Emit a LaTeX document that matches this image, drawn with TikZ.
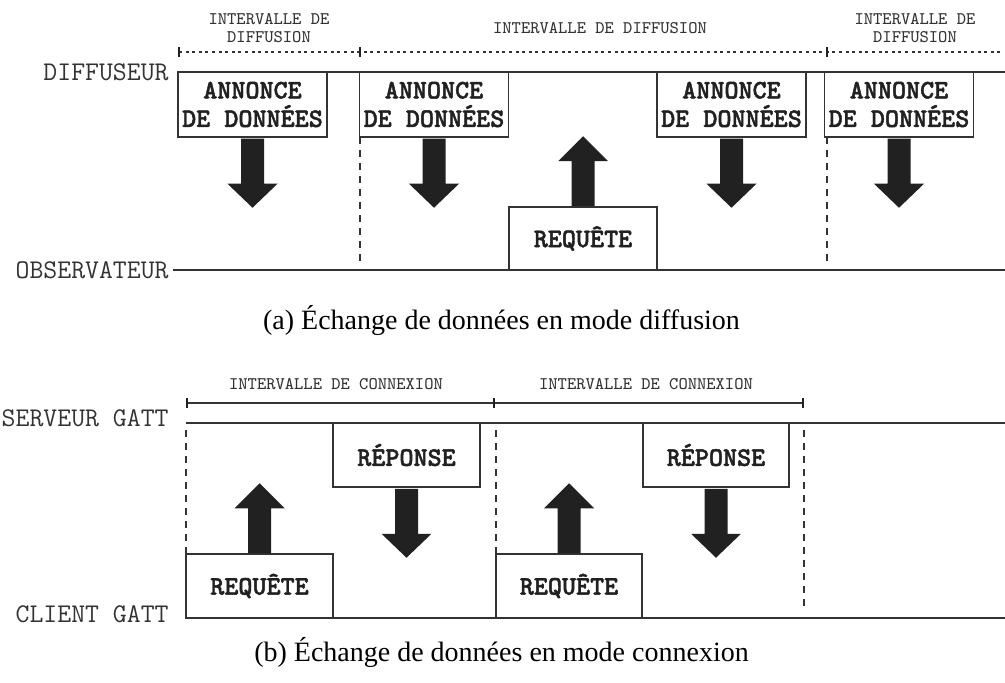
\documentclass[tikz,border=0pt]{standalone}
\usepackage{fontspec}
\setmainfont{Liberation Serif}
\newfontfamily\grasmono[Extension=.otf, UprightFont=lmmonolt10-bold, FakeBold=1.6]{lmmonolt10-bold}
\usepackage{tikz}
\usetikzlibrary{positioning}
\usepackage{xcolor}
\definecolor{trait}{gray}{0.2}
\definecolor{plein}{gray}{0.13}
\tikzset{boite/.style={draw=trait, line width=0.75pt, fill=white, inner sep=0pt, align=center,
           text=plein, font=\fontsize{13.4pt}{14.25pt}\selectfont\grasmono},
         acteur/.style={anchor=east, inner sep=0pt, text=trait,
           font=\fontsize{13.5pt}{14pt}\selectfont\ttfamily},
         intervalle/.style={inner sep=0pt, align=center, text=trait,
           font=\fontsize{8.85pt}{9.25pt}\selectfont\ttfamily},
         legende/.style={anchor=base, inner sep=0pt, font=\fontsize{14pt}{16pt}\selectfont},
         ligne/.style={draw=trait, line width=1pt},
         separation/.style={draw=trait, line width=0.8pt, dash pattern=on 3.5pt off 3pt},
         pointille/.style={draw=trait, line width=0.65pt, dash pattern=on 1.5pt off 1.8pt},
         repere/.style={draw=plein, line width=1pt},
         fleche/.style={fill=plein}}
\newcommand{\flechebas}[1]{\fill[fleche] (#1) ++(-11.5,1) -- ++(23,0) -- ++(0,45) -- ++(13.5,0)
  -- ++(-25,24) -- ++(-25,-24) -- ++(13.5,0) -- cycle;}
\newcommand{\flechehaut}[1]{\fill[fleche] (#1) ++(-11.5,0) -- ++(23,0) -- ++(0,-45) -- ++(13.5,0)
  -- ++(-25,-25) -- ++(-25,25) -- ++(13.5,0) -- cycle;}
\begin{document}
\begin{tikzpicture}[x=0.5pt, y=-0.5pt]
    \useasboundingbox (0,0) rectangle (1005,683);

        % (a) diffusion
        \coordinate (h1) at (178,72);
        \coordinate (h2) at (1005,72);
        \coordinate (o1) at (173,270);
        \coordinate (o2) at (1005,270);
        \node[acteur] (dif) at (169,72) {DIFFUSEUR};
        \node[acteur] (obs) at (169,270) {OBSERVATEUR};
        \draw[ligne] (h1) -- (h2);
        \draw[ligne] (o1) -- (o2);

        % Intervalles
        \coordinate (t1) at (179,52);
        \coordinate (t2) at (360,52);
        \coordinate (t3) at (827,52);
        \coordinate (t4) at (1003,52);
        \draw[pointille] (t1) -- (t4);
        \draw[repere] (179,47) -- (179,57);
        \draw[repere] (360,47) -- (360,57);
        \draw[repere] (827,47) -- (827,57);
        \node[intervalle] (i1) at (269,28) {INTERVALLE DE\\DIFFUSION};
        \node[intervalle] (i2) at (600,28) {INTERVALLE DE DIFFUSION};
        \node[intervalle] (i3) at (915,28) {INTERVALLE DE\\DIFFUSION};

        % Separations
        \draw[separation] (360,72) -- (360,262);
        \draw[separation] (827,72) -- (827,262);

        % Annonces et requete
        \node[boite, minimum width=74.5pt, minimum height=32.5pt] (d1) at (252.5,104.5) {ANNONCE\\DE DONNÉES};
        \node[boite, minimum width=74.5pt, minimum height=32.5pt] (d2) at (434,104.5) {ANNONCE\\DE DONNÉES};
        \node[boite, minimum width=74.5pt, minimum height=32.5pt] (d3) at (731.5,104.5) {ANNONCE\\DE DONNÉES};
        \node[boite, minimum width=74.5pt, minimum height=32.5pt] (d4) at (899,104.5) {ANNONCE\\DE DONNÉES};
        \node[boite, minimum width=74pt, minimum height=31.5pt] (r0) at (583,238.5) {REQUÊTE};
        \flechebas{d1.south}
        \flechebas{d2.south}
        \flechebas{d3.south}
        \flechebas{d4.south}
        \flechehaut{r0.north}

        \node[legende] (ca) at (501.5,330) {(a) Échange de données en mode diffusion};

        % (b) connexion
        \coordinate (s1) at (186,423);
        \coordinate (s2) at (1005,423);
        \coordinate (c1) at (186,618);
        \coordinate (c2) at (1005,618);
        \node[acteur] (srv) at (169,418) {SERVEUR GATT};
        \node[acteur] (cli) at (169,614) {CLIENT GATT};
        \draw[ligne] (s1) -- (s2);
        \draw[ligne] (c1) -- (c2);

        % Intervalles
        \coordinate (u1) at (187,403);
        \coordinate (u2) at (494,403);
        \coordinate (u3) at (803,403);
        \draw[ligne] (u1) -- (u3);
        \draw[repere] (187,398) -- (187,408);
        \draw[repere] (494,398) -- (494,408);
        \draw[repere] (803,398) -- (803,408);
        \node[intervalle] (j1) at (336,384) {INTERVALLE DE CONNEXION};
        \node[intervalle] (j2) at (646,384) {INTERVALLE DE CONNEXION};

        % Separations
        \draw[separation] (186,430) -- (186,607);
        \draw[separation] (496,430) -- (496,607);
        \draw[separation] (804,430) -- (804,607);

        % Requetes et reponses
        \node[boite, minimum width=73.5pt, minimum height=32pt] (p1) at (406.5,455) {RÉPONSE};
        \node[boite, minimum width=73pt, minimum height=32pt] (p2) at (716,455) {RÉPONSE};
        \node[boite, minimum width=73.5pt, minimum height=32pt] (q1) at (259.5,586) {REQUÊTE};
        \node[boite, minimum width=73pt, minimum height=32pt] (q2) at (569,586) {REQUÊTE};
        \flechebas{p1.south}
        \flechebas{p2.south}
        \flechehaut{q1.north}
        \flechehaut{q2.north}

        \node[legende] (cb) at (501.5,661) {(b) Échange de données en mode connexion};

    \end{tikzpicture}
\end{document}
